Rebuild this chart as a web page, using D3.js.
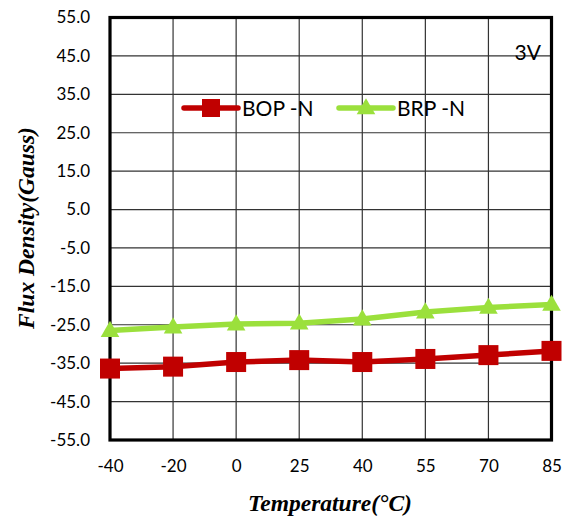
<!DOCTYPE html>
<html><head><meta charset="utf-8">
<script src="https://cdn.jsdelivr.net/npm/d3@7"></script>
<style>body{margin:0;background:#fff}</style>
</head><body>
<svg id="c" width="573" height="519"></svg>
<script>
const categories = ["-40","-20","0","25","40","55","70","85"];
const bopN = [-36.4,-35.9,-34.7,-34.2,-34.7,-33.9,-32.9,-31.8];
const brpN = [-26.5,-25.6,-24.8,-24.6,-23.5,-21.7,-20.5,-19.7];
const yTicks = [55,45,35,25,15,5,-5,-15,-25,-35,-45,-55];
const seriesNames = ["BOP -N","BRP -N"];

const svg = d3.select("#c");
const m = {l:110,r:551.5,t:17.5,b:440};
const x = d3.scalePoint().domain(categories).range([m.l,m.r]).padding(0);
const y = d3.scaleLinear().domain([-55,55]).range([m.b,m.t]);
const labFont = "Lato,'Open Sans',sans-serif";

// gridlines
svg.append("g").selectAll("line.h").data(yTicks).join("line")
  .attr("x1",m.l).attr("x2",m.r).attr("y1",d=>y(d)).attr("y2",d=>y(d))
  .attr("stroke","#333").attr("stroke-width",1.2);
svg.append("g").selectAll("line.v").data(categories).join("line")
  .attr("x1",d=>x(d)).attr("x2",d=>x(d)).attr("y1",m.t).attr("y2",m.b)
  .attr("stroke","#333").attr("stroke-width",1.2);

// y axis labels
const ya = d3.axisLeft(y).tickValues(yTicks).tickFormat(d=>d.toFixed(1)).tickSize(0).tickPadding(20);
svg.append("g").attr("transform",`translate(${m.l},0)`).call(ya)
  .call(g=>g.select(".domain").remove())
  .selectAll("text").attr("font-family",labFont).attr("font-size",17).attr("fill","#000");
// x axis labels
const xa = d3.axisBottom(x).tickSize(0).tickPadding(20);
svg.append("g").attr("transform",`translate(0,${m.b})`).call(xa)
  .call(g=>g.select(".domain").remove())
  .selectAll("text").attr("font-family",labFont).attr("font-size",17).attr("fill","#000");

// frame
svg.append("rect").attr("x",m.l).attr("y",m.t).attr("width",m.r-m.l).attr("height",m.b-m.t)
  .attr("fill","none").attr("stroke","#000").attr("stroke-width",3.2);

const red = "#C00000", green = "#9BE03C";
const line = d3.line().x((d,i)=>x(categories[i])).y(d=>y(d));
// BRP
svg.append("path").datum(brpN).attr("d",line).attr("fill","none").attr("stroke",green).attr("stroke-width",5.5);
const tri = d3.symbol().type(d3.symbolTriangle).size(150);
svg.append("g").selectAll("path").data(brpN).join("path")
  .attr("d",tri).attr("transform",(d,i)=>`translate(${x(categories[i])},${y(d)+1})`).attr("fill",green);
// BOP
svg.append("path").datum(bopN).attr("d",line).attr("fill","none").attr("stroke",red).attr("stroke-width",5.5);
svg.append("g").selectAll("rect").data(bopN).join("rect")
  .attr("x",(d,i)=>x(categories[i])-10).attr("y",d=>y(d)-10).attr("width",20).attr("height",20)
  .attr("fill",red);

// legend
const lg = svg.append("g");
lg.append("line").attr("x1",184).attr("x2",238).attr("y1",108).attr("y2",108).attr("stroke",red).attr("stroke-width",5.5).attr("stroke-linecap","round");
lg.append("rect").attr("x",202).attr("y",99).attr("width",18).attr("height",18).attr("fill",red);
lg.append("text").attr("x",242).attr("y",116).text(seriesNames[0]).attr("font-family",labFont).attr("font-size",21);
lg.append("line").attr("x1",339).attr("x2",393).attr("y1",108).attr("y2",108).attr("stroke",green).attr("stroke-width",5.5).attr("stroke-linecap","round");
lg.append("path").attr("d",tri).attr("transform","translate(366,109)").attr("fill",green);
lg.append("text").attr("x",397).attr("y",116).text(seriesNames[1]).attr("font-family",labFont).attr("font-size",21);

svg.append("text").attr("x",541).attr("y",60).attr("text-anchor","end").text("3V")
  .attr("font-family",labFont).attr("font-size",21);

// axis titles
svg.append("text").attr("x",330).attr("y",511).attr("text-anchor","middle")
  .attr("font-family","'Liberation Serif','Times New Roman',serif").attr("font-style","italic").attr("font-weight","bold")
  .attr("font-size",23.5).text("Temperature(°C)");
svg.append("text").attr("transform","translate(34,228) rotate(-90)").attr("text-anchor","middle")
  .attr("font-family","'Liberation Serif','Times New Roman',serif").attr("font-style","italic").attr("font-weight","bold")
  .attr("font-size",23.5).text("Flux Density(Gauss)");
</script>
</body></html>
